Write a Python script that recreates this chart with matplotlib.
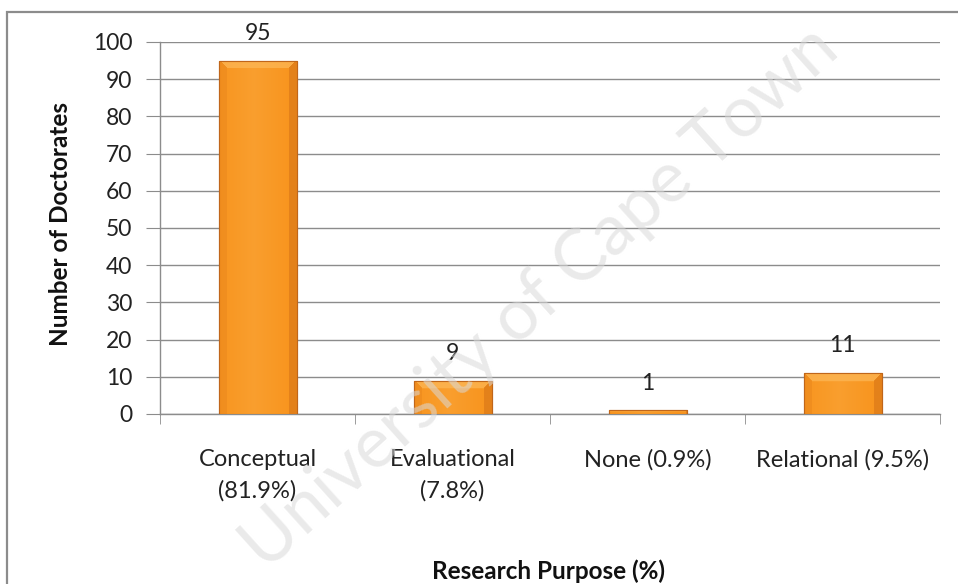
import numpy as np
import matplotlib
matplotlib.use("Agg")
import matplotlib.pyplot as plt
from matplotlib.patches import Rectangle
from matplotlib.colors import to_rgb

categories = ["Conceptual\n(81.9%)", "Evaluational\n(7.8%)", "None (0.9%)", "Relational (9.5%)"]
counts = [95, 9, 1, 11]
y_ticks = [0, 10, 20, 30, 40, 50, 60, 70, 80, 90, 100]

plt.rcParams['font.family'] = ['Lato', 'DejaVu Sans']

W, H = 958, 584
fig = plt.figure(figsize=(W / 100, H / 100), dpi=100)
fig.patch.set_facecolor("white")

# outer chart frame (runs off the right and bottom edges)
fig.patches.append(Rectangle((7 / W, -0.1), 1.2, 1 - 12 / H + 0.1,
                             transform=fig.transFigure, fill=False,
                             edgecolor="#8c8c8c", linewidth=1.6, zorder=0))

ax = fig.add_axes([160 / W, 1 - 414 / H, 780 / W, 372 / H])
ax.patch.set_visible(False)

x = np.arange(len(categories))
ax.set_xlim(-0.5, len(categories) - 0.5)
ax.set_ylim(0, 100)

ax.set_yticks(y_ticks)
ax.yaxis.grid(True, color="#8c8c8c", linewidth=1.0)
ax.set_axisbelow(True)
for side in ("top", "right"):
    ax.spines[side].set_visible(False)
for side in ("left", "bottom"):
    ax.spines[side].set_color("#8c8c8c")
    ax.spines[side].set_linewidth(1.0)
ax.tick_params(axis="y", direction="out", length=10, color="#8c8c8c",
               labelsize=16.5, pad=10, labelcolor="#222222")

ax.set_xticks(x)
ax.set_xticklabels(categories, fontsize=17, linespacing=1.6, color="#222222")
ax.tick_params(axis="x", length=0, pad=25)
ax.set_xticks(np.arange(len(categories) + 1) - 0.5, minor=True)
ax.tick_params(axis="x", which="minor", direction="out", length=7, color="#8c8c8c")

bar_w = 0.4
base = np.array(to_rgb("#F8951F"))
light = np.array(to_rgb("#FDBB5C"))
dark = np.array(to_rgb("#D06E16"))

px_per_x = 780 / len(categories)
px_per_y = 372 / 100

bars = ax.bar(x, counts, width=bar_w, color="#F8951F", edgecolor="#C0661A",
              linewidth=0.8, zorder=3)

for rect, val in zip(bars, counts):
    x0 = rect.get_x()
    w_px = bar_w * px_per_x
    h_px = max(val * px_per_y, 2)
    nx, ny = int(w_px), max(int(h_px), 2)
    xx, yy = np.meshgrid(np.arange(nx) + 0.5, np.arange(ny) + 0.5)
    bev = min(8, h_px / 3)
    img = np.tile(base, (ny, nx, 1))
    # slightly brighter middle of the face
    mix = np.clip(1 - np.abs(xx / nx - 0.45) * 2.2, 0, 1)[..., None] * 0.25
    img = img * (1 - mix) + light * mix
    # bevelled rim: light top, darker sides
    top = (yy < bev) & (yy < xx) & (yy < nx - xx)
    left = (xx < bev) & ~top
    right = (xx > nx - bev) & ~top
    img[top] = img[top] * 0.35 + light * 0.65
    img[left] = img[left] * 0.8 + dark * 0.2
    img[right] = img[right] * 0.5 + dark * 0.5
    img = np.clip(img, 0, 1)
    im = ax.imshow(img, extent=(x0, x0 + bar_w, 0, val), aspect="auto",
                   origin="upper", zorder=3.5, interpolation="bilinear")
    im.set_clip_path(rect)
    # drop shadow
    ax.add_patch(Rectangle((x0 + 0.008, -0.6), bar_w, val, facecolor="#000000",
                           alpha=0.12, linewidth=0, zorder=2.5))
    ax.add_patch(Rectangle((x0, 0), bar_w, val, fill=False, edgecolor="#C0661A",
                           linewidth=0.8, zorder=4))
    ax.text(rect.get_x() + bar_w / 2, val + 7.3, str(val), ha="center",
            va="center", fontsize=16.5, color="#222222", zorder=5)

ax.set_aspect("auto")
ax.set_xlim(-0.5, len(categories) - 0.5)
ax.set_ylim(0, 100)

fig.text(60 / W, 1 - 224 / H, "Number of Doctorates", rotation=90,
         ha="center", va="center", fontsize=17.5, fontweight="bold", color="#111111")
fig.text(549 / W, 1 - 571 / H, "Research Purpose (%)", ha="center",
         va="center", fontsize=17.5, fontweight="bold", color="#111111")

# faint diagonal watermark
fig.text(540 / W, 1 - 298 / H, "University of Cape Town", rotation=42,
         ha="center", va="center", fontsize=51, color="#d9d9d9", alpha=0.55,
         zorder=10)

fig.savefig("out.png", dpi=100, facecolor="white")
